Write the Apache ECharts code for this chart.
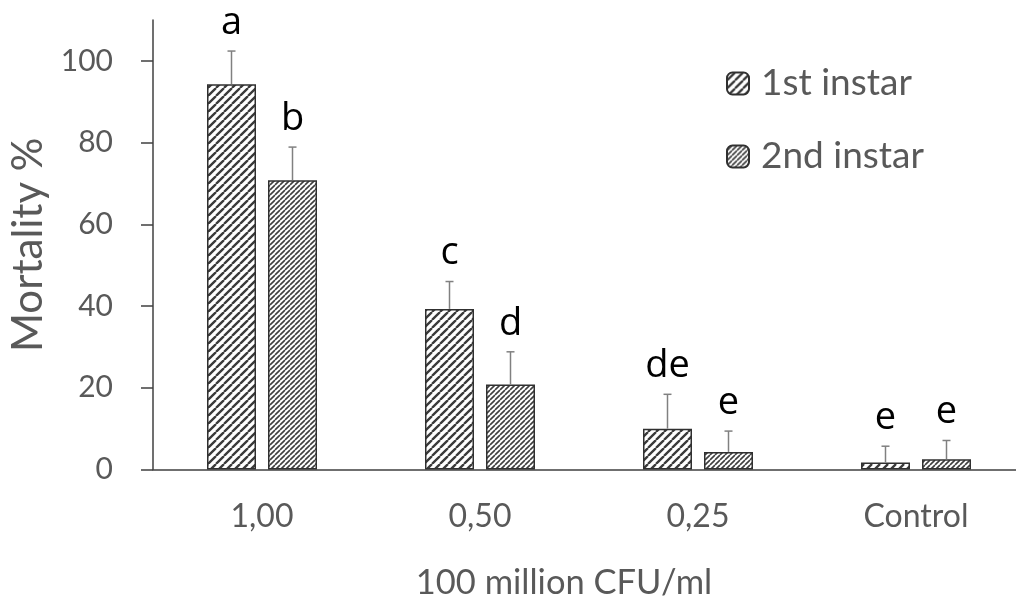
<!DOCTYPE html>
<html><head><meta charset="utf-8">
<script src="https://cdn.jsdelivr.net/npm/echarts@6/dist/echarts.min.js"></script>
<style>html,body{margin:0;padding:0;background:#fff}#c{width:1016px;height:612px}</style>
</head><body><div id="c"></div><script>
const categories = ['1,00', '0,50', '0,25', 'Control'];
const seriesNames = ['1st instar', '2nd instar'];
const mean1 = [94.3, 39.3, 10.0, 1.7];
const err1 = [8.1, 6.7, 8.4, 4.0];
const letters1 = ['a', 'c', 'de', 'e'];
const mean2 = [70.8, 20.8, 4.3, 2.5];
const err2 = [8.1, 8.0, 5.1, 4.6];
const letters2 = ['b', 'd', 'e', 'e'];
const yTicks = [0, 20, 40, 60, 80, 100];
const yMax = 110;

function hatch(period, lw, color) {
  const c = document.createElement('canvas');
  c.width = c.height = period;
  const g = c.getContext('2d');
  g.fillStyle = '#fff'; g.fillRect(0, 0, period, period);
  g.strokeStyle = color; g.lineWidth = lw;
  g.beginPath();
  for (let k = -1; k <= 1; k++) { g.moveTo(k * period, period); g.lineTo(k * period + period, 0); }
  g.stroke();
  return c;
}
const pat1 = { image: hatch(8, 2.3, '#3a3a3a'), repeat: 'repeat' };
const pat2 = { image: hatch(5, 1.6, '#3f3f3f'), repeat: 'repeat' };

const BAR_W = 49, GAP = 12;
const OFF = (BAR_W + GAP) / 2;

function errSeries(mean, err, letters, offset) {
  return {
    type: 'custom',
    z: 5,
    silent: true,
    data: mean.map((m, i) => [i, m, err[i]]),
    encode: { x: 0, y: 1 },
    renderItem(params, api) {
      const i = params.dataIndex;
      const base = api.coord([api.value(0), api.value(1)]);
      const top = api.coord([api.value(0), api.value(1) + api.value(2)]);
      const x = base[0] + offset;
      const cap = 4;
      return {
        type: 'group', children: [
          { type: 'line', shape: { x1: x, y1: base[1], x2: x, y2: top[1] }, style: { stroke: '#808080', lineWidth: 1.5 } },
          { type: 'line', shape: { x1: x - cap, y1: top[1], x2: x + cap, y2: top[1] }, style: { stroke: '#808080', lineWidth: 1.5 } },
          { type: 'text', x: x, y: top[1] - 9, style: { text: letters[i], fill: '#000', font: '38px "Open Sans"', align: 'center', verticalAlign: 'bottom' } }
        ]
      };
    }
  };
}

const chart = echarts.init(document.getElementById('c'), null, { renderer: 'canvas' });
chart.setOption({
  animation: false,
  backgroundColor: '#fff',
  textStyle: { fontFamily: 'Lato' },
  grid: { left: 153, top: 20, width: 872, height: 449.5, containLabel: false, outerBoundsMode: 'none' },
  legend: {
    orient: 'vertical', left: 721, top: 60, itemWidth: 22, itemHeight: 22, itemGap: 36,
    data: seriesNames,
    textStyle: { fontSize: 37, color: '#595959', fontFamily: 'Lato', padding: [0, 0, 0, 7] }
  },
  xAxis: {
    type: 'category', data: categories,
    axisLine: { lineStyle: { color: '#404040', width: 1.5 } },
    axisTick: { show: false },
    axisLabel: { fontSize: 32, color: '#595959', margin: 31, fontFamily: 'Lato' },
    name: '100 million CFU/ml', nameLocation: 'middle', nameGap: 96,
    nameTextStyle: { fontSize: 34.5, color: '#595959', fontFamily: 'Lato', padding: [0, 50, 0, 0] }
  },
  yAxis: {
    type: 'value', min: 0, max: yMax,
    splitLine: { show: false },
    axisLine: { show: true, lineStyle: { color: '#404040', width: 1.5 } },
    axisTick: { show: true, length: 12, customValues: yTicks, lineStyle: { color: '#404040', width: 1.5 } },
    axisLabel: { fontSize: 30, color: '#595959', margin: 40, customValues: yTicks, fontFamily: 'Lato' },
    name: 'Mortality %', nameLocation: 'middle', nameGap: 96,
    nameTextStyle: { fontSize: 42, color: '#595959', fontFamily: 'Lato' }
  },
  series: [
    { name: seriesNames[0], type: 'bar', data: mean1, barWidth: BAR_W, barGap: (GAP / BAR_W * 100) + '%',
      itemStyle: { color: pat1, borderColor: '#303030', borderWidth: 1.5 } },
    { name: seriesNames[1], type: 'bar', data: mean2, barWidth: BAR_W,
      itemStyle: { color: pat2, borderColor: '#303030', borderWidth: 1.5 } },
    errSeries(mean1, err1, letters1, -OFF),
    errSeries(mean2, err2, letters2, OFF)
  ]
});
</script></body></html>
